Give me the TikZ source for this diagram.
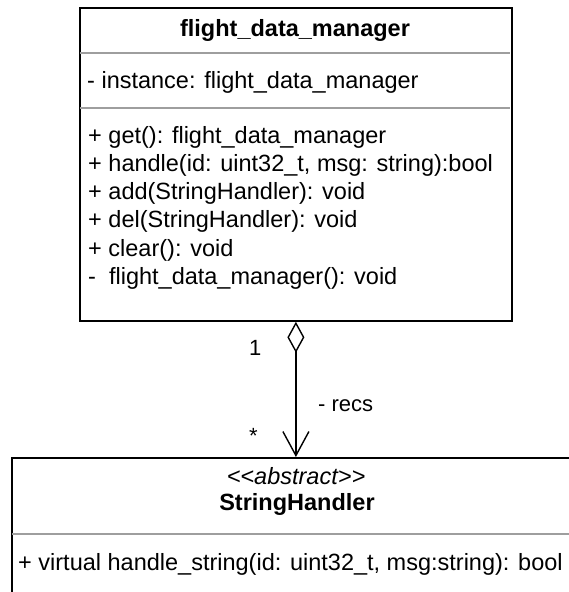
\documentclass[tikz,border=0pt]{standalone}
\usepackage{fontspec}
\setmainfont{Liberation Sans}
\usetikzlibrary{arrows.meta}

\tikzset{
  classbox/.style={draw=black, line width=1.8pt, fill=white, inner sep=0pt, anchor=north west},
  sepline/.style={draw=black!38, line width=1.5pt},
  umltext/.style={inner sep=0pt, anchor=base west, font=\fontsize{23.5}{28}\selectfont},
  umltitle/.style={inner sep=0pt, anchor=base, font=\fontsize{23.5}{28}\selectfont\bfseries},
  umlstereo/.style={inner sep=0pt, anchor=base, font=\fontsize{23.5}{28}\selectfont\itshape},
  edgelabel/.style={inner sep=0pt, anchor=base west, font=\fontsize{22}{26}\selectfont},
  aggregation/.style={draw=black, line width=1.4pt,
    {Diamond[open, length=31pt, width=17pt, line width=1.4pt]}-{Straight Barb[length=24pt, width=26pt, line width=1.4pt]}}
}

\begin{document}
\begin{tikzpicture}[x=1pt, y=-1pt]
  \useasboundingbox (0,0) rectangle (569,592);
  \clip (0,0) rectangle (569,592);

  % class flight_data_manager
  \node[classbox, minimum width=432pt, minimum height=313pt] (fdm) at (79,7) {};
  \draw[sepline] (80,53) -- (510,53);
  \draw[sepline] (80,108) -- (510,108);
  \node[umltitle] (fdmname) at (295,36) {flight\_data\_manager};
  \node[umltext] (attr1) at (87,88) {- instance: flight\_data\_manager};
  \node[umltext] (op1) at (88,143) {+ get(): flight\_data\_manager};
  \node[umltext] (op2) at (88,171.3) {+ handle(id: uint32\_t, msg: string):bool};
  \node[umltext] (op3) at (88,199.6) {+ add(StringHandler): void};
  \node[umltext] (op4) at (88,227.9) {+ del(StringHandler): void};
  \node[umltext] (op5) at (88,256.2) {+ clear(): void};
  \node[umltext] (op6) at (88,284.5) {-\ \ flight\_data\_manager(): void};

  % abstract class StringHandler
  \node[classbox, minimum width=600pt, minimum height=170pt] (sh) at (11,457) {};
  \draw[sepline] (12,534) -- (569,534);
  \node[umlstereo] (shstereo) at (296,484) {<\kern0pt<abstract>\kern0pt>};
  \node[umltitle] (shname) at (297,510) {StringHandler};
  \node[umltext] (shop1) at (18,570) {+ virtual handle\_string(id: uint32\_t, msg:string): bool};

  % aggregation
  \draw[aggregation] (fdm.south) -- (sh.north -| fdm.south);
  \node[edgelabel] (multone) at (249,355) {1};
  \node[edgelabel] (multmany) at (249,443) {*};
  \node[edgelabel] (role) at (318,411) {- recs};
\end{tikzpicture}
\end{document}
